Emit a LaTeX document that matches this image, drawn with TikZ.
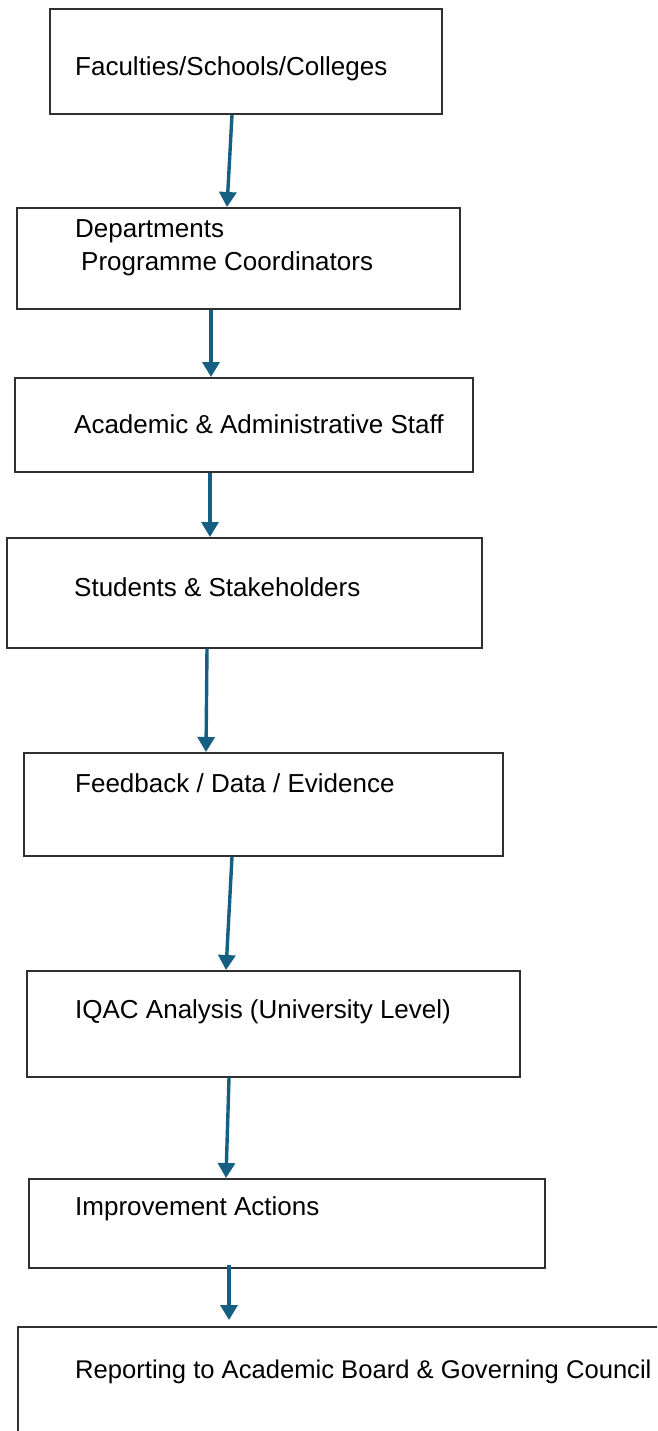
\documentclass[tikz,border=0pt]{standalone}
\usepackage{fontspec}
\setmainfont{Liberation Sans}
\usetikzlibrary{arrows.meta}
\definecolor{arrowblue}{HTML}{156082}
\definecolor{boxgray}{HTML}{303030}
\tikzset{
  flowbox/.style={draw=boxgray, line width=1.7pt, rectangle, inner sep=0pt, anchor=north west, fill=white},
  label/.style={anchor=base west, inner sep=0pt, text=black, font=\fontsize{26}{31}\selectfont},
  flowarrow/.style={draw=arrowblue, line width=3.4pt, -{Triangle[width=17pt,length=15pt]}}
}
\begin{document}
\begin{tikzpicture}[x=1pt,y=-1pt]
\clip (0,0) rectangle (657,1431);
\fill[white] (0,0) rectangle (657,1431);
% boxes
\node[flowbox, minimum width=392pt, minimum height=105pt] (b1) at (49,8) {};
\node[flowbox, minimum width=443pt, minimum height=101pt] (b2) at (16,207) {};
\node[flowbox, minimum width=458pt, minimum height=94pt] (b3) at (14,377) {};
\node[flowbox, minimum width=475pt, minimum height=110pt] (b4) at (6,537) {};
\node[flowbox, minimum width=479pt, minimum height=103pt] (b5) at (23,752) {};
\node[flowbox, minimum width=493pt, minimum height=106pt] (b6) at (26,970) {};
\node[flowbox, minimum width=516pt, minimum height=89pt] (b7) at (28,1178) {};
\node[flowbox, minimum width=700pt, minimum height=160pt] (b8) at (17,1326) {};
% texts
\node[label] (t1) at (75,76) {Faculties/Schools/Colleges};
\node[label] (t2a) at (75,238) {Departments};
\node[label] (t2b) at (81,270) {Programme Coordinators};
\node[label] (t3) at (74,433) {Academic \& Administrative Staff};
\node[label] (t4) at (74,596) {Students \& Stakeholders};
\node[label] (t5) at (75,792) {Feedback / Data / Evidence};
\node[label] (t6) at (75,1018) {IQAC Analysis (University Level)};
\node[label] (t7) at (75,1215) {Improvement Actions};
\node[label] (t8) at (75,1378) {\fontsize{25.6}{31}\selectfont Reporting to Academic Board \& Governing Council};
% arrows
\draw[flowarrow] ([xshift=183pt]b1.south west) -- ([xshift=211pt]b2.north west);
\draw[flowarrow] ([xshift=195pt]b2.south west) -- ([xshift=197pt]b3.north west);
\draw[flowarrow] ([xshift=196pt]b3.south west) -- ([xshift=204pt]b4.north west);
\draw[flowarrow] ([xshift=201pt]b4.south west) -- ([xshift=183pt]b5.north west);
\draw[flowarrow] ([xshift=209pt]b5.south west) -- ([xshift=200pt]b6.north west);
\draw[flowarrow] ([xshift=203pt]b6.south west) -- ([xshift=198pt]b7.north west);
\draw[flowarrow] ([xshift=201pt,yshift=4pt]b7.south west) -- ([xshift=212pt,yshift=6pt]b8.north west);
\end{tikzpicture}
\end{document}
